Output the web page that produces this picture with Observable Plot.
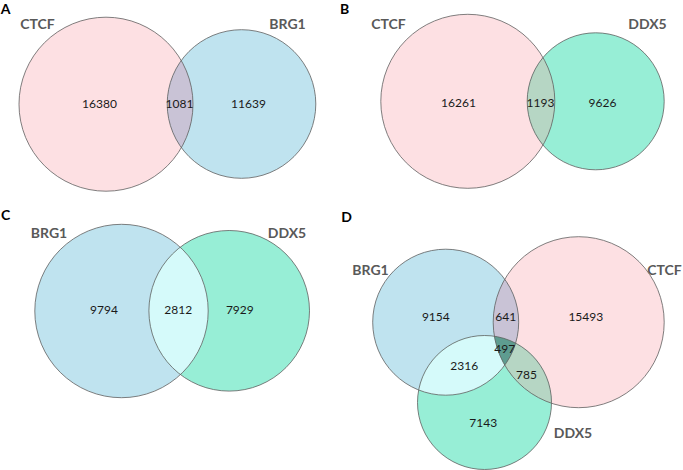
<!DOCTYPE html>
<html>
<head>
<meta charset="utf-8">
<script src="https://cdn.jsdelivr.net/npm/d3@7"></script>
<script src="https://cdn.jsdelivr.net/npm/@observablehq/plot@0.6"></script>
<style>
  html, body { margin: 0; padding: 0; background: #fff; }
  #chart svg { display: block; }
</style>
</head>
<body>
<div id="chart"></div>
<script>
// ---------- data ----------
const panelLetters = ["A", "B", "C", "D"];
const setsA = ["CTCF", "BRG1"];
const countsA = [16380, 1081, 11639];            // CTCF only, CTCF∩BRG1, BRG1 only
const setsB = ["CTCF", "DDX5"];
const countsB = [16261, 1193, 9626];             // CTCF only, CTCF∩DDX5, DDX5 only
const setsC = ["BRG1", "DDX5"];
const countsC = [9794, 2812, 7929];              // BRG1 only, BRG1∩DDX5, DDX5 only
const setsD = ["BRG1", "CTCF", "DDX5"];
const countsD = [9154, 641, 15493, 497, 2316, 785, 7143]; // B, B∩C, C, all, B∩D, C∩D, D

// ---------- styles ----------
const setColor = {CTCF: "#fde0e3", BRG1: "#bfe3ef", DDX5: "#97eed6"};
const pairColor = {"CTCF|BRG1": "#c9c3d6", "BRG1|CTCF": "#c9c3d6",
                   "CTCF|DDX5": "#b6d6c4", "DDX5|CTCF": "#b6d6c4",
                   "BRG1|DDX5": "#d5fafa", "DDX5|BRG1": "#d5fafa"};
const tripleColor = "#5e9c90";

// ---------- layout (pixel geometry of the diagrams) ----------
const circleLayout = {
  A: [[105.5, 103.7, 87], [241, 103.5, 74.3]],
  B: [[467.3, 100.8, 87], [595.2, 100.8, 68.5]],
  C: [[121, 310.5, 86.7], [228.7, 310.3, 80.3]],
  D: [[445.2, 321.7, 73], [578.2, 321.7, 85.5], [484, 402, 67]]
};
const countLayout = {
  A: [[99, 104], [179, 104], [248, 104]],
  B: [[458, 103], [540, 103], [602, 103]],
  C: [[103.5, 310], [177.7, 310], [239.3, 310]],
  D: [[435.3, 317], [505.3, 317], [585.3, 317], [504.3, 348.5], [463.7, 366], [526, 374.5], [482.7, 422.5]]
};
const setLabelLayout = {
  A: [[37, 24], [287, 24]],
  B: [[388, 24], [647, 24]],
  C: [[48.5, 233], [286.5, 233]],
  D: [[370, 270], [664, 270], [572.5, 433.5]]
};
const letterLayout = {A: [5, 9], B: [344, 9], C: [5, 215], D: [346, 217]};

const panelSets = {A: setsA, B: setsB, C: setsC, D: setsD};
const panelCounts = {A: countsA, B: countsB, C: countsC, D: countsD};

// ---------- build tables ----------
const circles = [];
for (const p of panelLetters) {
  panelSets[p].forEach((s, i) => {
    const [cx, cy, r] = circleLayout[p][i];
    circles.push({panel: p, set: s, cx, cy, r, color: setColor[s]});
  });
}

function intersection(cs, id, color) {
  const N = 720, pts = [];
  for (const c of cs) {
    for (let k = 0; k < N; k++) {
      const a = 2 * Math.PI * k / N;
      const x = c.cx + c.r * Math.cos(a), y = c.cy + c.r * Math.sin(a);
      if (cs.every(o => o === c || Math.hypot(x - o.cx, y - o.cy) <= o.r + 1e-9)) pts.push([x, y]);
    }
  }
  const mx = d3.mean(pts, d => d[0]), my = d3.mean(pts, d => d[1]);
  pts.sort((a, b) => Math.atan2(a[1] - my, a[0] - mx) - Math.atan2(b[1] - my, b[0] - mx));
  return pts.map(([x, y]) => ({x, y, id, color}));
}

let regions = [];
for (const p of panelLetters) {
  const cs = circles.filter(c => c.panel === p);
  for (let i = 0; i < cs.length; i++)
    for (let j = i + 1; j < cs.length; j++)
      regions = regions.concat(intersection([cs[i], cs[j]], p + i + j, pairColor[cs[i].set + "|" + cs[j].set]));
  if (cs.length === 3) regions = regions.concat(intersection(cs, p + "all", tripleColor));
}

const countLabels = [], setLabels = [], letters = [];
for (const p of panelLetters) {
  panelCounts[p].forEach((v, i) => countLabels.push({x: countLayout[p][i][0], y: countLayout[p][i][1], text: String(v)}));
  panelSets[p].forEach((s, i) => setLabels.push({x: setLabelLayout[p][i][0], y: setLabelLayout[p][i][1], text: s}));
  letters.push({x: letterLayout[p][0], y: letterLayout[p][1], text: p});
}

const chart = Plot.plot({
  width: 683,
  height: 470,
  margin: 0,
  style: {fontFamily: "Lato, 'Open Sans', sans-serif", background: "#fff"},
  x: {domain: [0, 683], range: [0, 683], axis: null},
  y: {domain: [0, 470], range: [0, 470], axis: null},
  r: {type: "identity"},
  color: {type: "identity"},
  marks: [
    Plot.dot(circles, {x: "cx", y: "cy", r: "r", fill: "color", stroke: "none"}),
    Plot.line(regions, {x: "x", y: "y", z: "id", fill: "color", stroke: "none", curve: "linear-closed"}),
    Plot.dot(circles, {x: "cx", y: "cy", r: "r", fill: "none", stroke: "#5f5f5f", strokeWidth: 0.8}),
    Plot.text(countLabels, {x: "x", y: "y", text: "text", fontSize: 12, fill: "#1a1a1a"}),
    Plot.text(setLabels, {x: "x", y: "y", text: "text", fontSize: 14, fontWeight: "bold", fill: "#595959"}),
    Plot.text(letters, {x: "x", y: "y", text: "text", fontSize: 14, fontWeight: "bold", fill: "#000"})
  ]
});
document.getElementById("chart").appendChild(chart);
</script>
</body>
</html>
